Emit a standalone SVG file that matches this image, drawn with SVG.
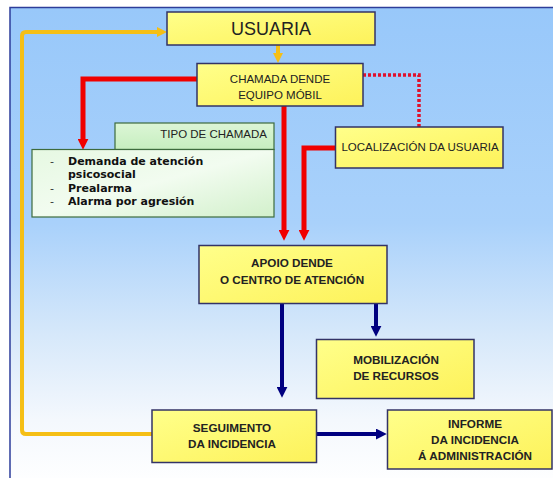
<svg xmlns="http://www.w3.org/2000/svg" width="553" height="478" viewBox="0 0 553 478">
<defs>
<linearGradient id="bg" x1="0" y1="0" x2="0" y2="1">
<stop offset="0" stop-color="#98c8fa"/>
<stop offset="0.45" stop-color="#a9d1fb"/>
<stop offset="0.68" stop-color="#d6e8fa"/>
<stop offset="0.86" stop-color="#f4f8fd"/>
<stop offset="1" stop-color="#ffffff"/>
</linearGradient>
<linearGradient id="yel" x1="0" y1="0" x2="1" y2="1">
<stop offset="0" stop-color="#ffff8a"/>
<stop offset="1" stop-color="#fdf25a"/>
</linearGradient>
<linearGradient id="grn" x1="0" y1="0" x2="1" y2="1">
<stop offset="0" stop-color="#e6f8e2"/>
<stop offset="0.5" stop-color="#f2fcf0"/>
<stop offset="1" stop-color="#d2f0cb"/>
</linearGradient>
<linearGradient id="tab" x1="0" y1="0" x2="0" y2="1">
<stop offset="0" stop-color="#dcf6d6"/>
<stop offset="1" stop-color="#c6eebf"/>
</linearGradient>
<marker id="mr" markerUnits="userSpaceOnUse" markerWidth="11" markerHeight="11" viewBox="0 0 10 10" refX="2" refY="5" orient="auto">
<path d="M0,0 L10,5 L0,10 z" fill="#f00000"/>
</marker>
<marker id="mo" markerUnits="userSpaceOnUse" markerWidth="10" markerHeight="10" viewBox="0 0 10 10" refX="2" refY="5" orient="auto">
<path d="M0,0 L10,5 L0,10 z" fill="#f5bf16"/>
</marker>
<marker id="mb" markerUnits="userSpaceOnUse" markerWidth="11" markerHeight="11" viewBox="0 0 10 10" refX="2" refY="5" orient="auto">
<path d="M0,0 L10,5 L0,10 z" fill="#000080"/>
</marker>
<style>
.box{fill:url(#yel);stroke:#333366;stroke-width:1.5}
.gbox{fill:url(#grn);stroke:#3d6b3d;stroke-width:1.2}
.tab{fill:url(#tab);stroke:#3d6b3d;stroke-width:1.2}
.t{font-family:"Liberation Sans",Arial,sans-serif;fill:#222;text-anchor:middle}
.r{font-size:11.5px}
.b{font-size:11.7px;font-weight:bold}
.li{font-family:"DejaVu Sans",Verdana,sans-serif;font-size:11px;font-weight:bold;fill:#111}
.d{font-family:"DejaVu Sans",Verdana,sans-serif;font-size:11px;fill:#333}
.red{fill:none;stroke:#f00000;stroke-width:5}
.org{fill:none;stroke:#f5bf16;stroke-width:4}
.blu{fill:none;stroke:#000080;stroke-width:4}
</style>
</defs>
<rect x="10" y="7.5" width="560" height="480" fill="url(#bg)" stroke="#2d3d9a" stroke-width="1.5"/>

<g id="connectors">
<path class="org" d="M158,32 H26 Q22,32 22,36 V430 Q22,434 26,434 H152" marker-start="none"/>
<path class="org" d="M158,32 H159" marker-end="url(#mo)"/>
<path class="org" d="M278,45 V55" stroke-width="3" marker-end="url(#mo)"/>
<path class="red" d="M197,79 H83 V141" marker-end="url(#mr)"/>
<path class="red" d="M284,106 V232" marker-end="url(#mr)"/>
<path class="red" d="M335,148 H304 V232" marker-end="url(#mr)"/>
<path d="M363,75 H419 V127" fill="none" stroke="#e0102a" stroke-width="3.5" stroke-dasharray="3 2"/>
<path class="blu" d="M282,303 V389" marker-end="url(#mb)"/>
<path class="blu" d="M376,303 V328" marker-end="url(#mb)"/>
<path class="blu" d="M317,434 H378" marker-end="url(#mb)"/>
</g>

<g id="usuaria">
<rect class="box" x="167" y="12" width="208" height="33"/>
<text class="t" x="271" y="35" font-size="18">USUARIA</text>
</g>

<g id="chamada">
<rect class="box" x="197" y="63.5" width="166" height="42.5"/>
<text class="t r" x="280" y="82.5">CHAMADA DENDE</text>
<text class="t r" x="280" y="98.5">EQUIPO MÓBIL</text>
</g>

<g id="tipo-chamada">
<rect class="tab" x="115" y="123" width="159" height="26.5"/>
<text class="t r" x="267" y="137.5" style="text-anchor:end">TIPO DE CHAMADA</text>
<rect class="gbox" x="32" y="149.5" width="242" height="67.5"/>
<text class="d" x="50" y="165">-</text>
<text class="li" x="68" y="165">Demanda de atención</text>
<text class="li" x="68" y="178.3">psicosocial</text>
<text class="d" x="50" y="191.6">-</text>
<text class="li" x="68" y="191.6">Prealarma</text>
<text class="d" x="50" y="204.6">-</text>
<text class="li" x="68" y="204.6">Alarma por agresión</text>
</g>

<g id="localizacion">
<rect class="box" x="335.5" y="127" width="167.5" height="41"/>
<text class="t r" x="420" y="151">LOCALIZACIÓN DA USUARIA</text>
</g>

<g id="apoio">
<rect class="box" x="199" y="245.5" width="188" height="58"/>
<text class="t b" x="292" y="267">APOIO DENDE</text>
<text class="t b" x="292" y="283.5">O CENTRO DE ATENCIÓN</text>
</g>

<g id="mobilizacion">
<rect class="box" x="316.5" y="339.5" width="157.5" height="59"/>
<text class="t b" x="396" y="363.5">MOBILIZACIÓN</text>
<text class="t b" x="396" y="379.5">DE RECURSOS</text>
</g>

<g id="seguimento">
<rect class="box" x="152" y="410" width="164.5" height="52.5"/>
<text class="t b" x="232" y="432">SEGUIMENTO</text>
<text class="t b" x="232" y="448">DA INCIDENCIA</text>
</g>

<g id="informe">
<rect class="box" x="387.5" y="410" width="164.5" height="59"/>
<text class="t b" x="475" y="428">INFORME</text>
<text class="t b" x="475" y="443.5">DA INCIDENCIA</text>
<text class="t b" x="475" y="459.5">Á ADMINISTRACIÓN</text>
</g>
</svg>
